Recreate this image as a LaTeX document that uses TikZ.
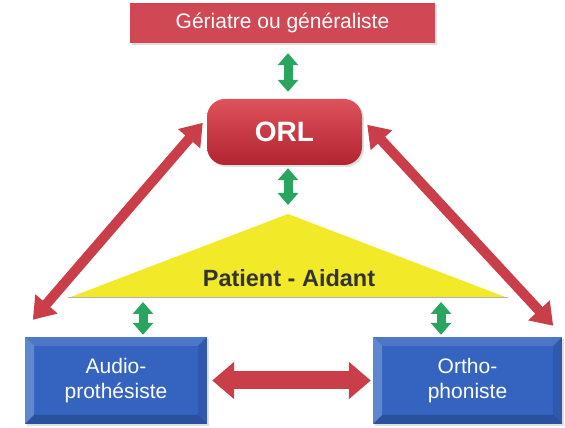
\documentclass[tikz,border=0pt]{standalone}
\usepackage{fontspec}
\setmainfont{Liberation Sans}
\usetikzlibrary{arrows.meta,calc,positioning,shadows}
\definecolor{hdred}{RGB}{208,72,84}
\definecolor{orltop}{RGB}{222,82,92}
\definecolor{orlbot}{RGB}{178,36,48}
\definecolor{boxblue}{RGB}{52,100,192}
\definecolor{ptyellow}{RGB}{242,234,40}
\definecolor{lkgreen}{RGB}{40,165,95}
\definecolor{lkred}{RGB}{202,62,74}

\begin{document}
\begin{tikzpicture}[x=1pt,y=1pt,
  every node/.style={inner sep=0pt},
  shadowed/.style={drop shadow={shadow xshift=2pt,shadow yshift=-2pt,opacity=.25}},
  hdbox/.style={fill=hdred,shadowed,minimum width=305pt,minimum height=40pt,
    text=white,font=\fontsize{21}{25}\selectfont},
  orlbox/.style={top color=orltop,bottom color=orlbot,shadowed,rounded corners=18pt,
    minimum width=155pt,minimum height=66pt,text=white,font=\fontsize{28}{32}\selectfont\bfseries},
  bevelbox/.style={fill=boxblue,shadowed,minimum height=87pt,align=center,
    text=white,font=\fontsize{21}{25}\selectfont,
    path picture={
      \coordinate (bsw) at (path picture bounding box.south west);
      \coordinate (bne) at (path picture bounding box.north east);
      \fill[white,opacity=.22] (bsw) -- (bsw|-bne) -- ($(bsw|-bne)+(9,-9)$) -- ($(bsw)+(9,9)$) -- cycle;
      \fill[white,opacity=.12] (bsw|-bne) -- (bne) -- ($(bne)+(-9,-9)$) -- ($(bsw|-bne)+(9,-9)$) -- cycle;
      \fill[black,opacity=.10] (bne) -- (bne|-bsw) -- ($(bne|-bsw)+(-9,9)$) -- ($(bne)+(-9,-9)$) -- cycle;
      \fill[black,opacity=.18] (bsw) -- (bne|-bsw) -- ($(bne|-bsw)+(-9,9)$) -- ($(bsw)+(9,9)$) -- cycle;
    }},
  pttext/.style={text=black!80,font=\fontsize{23.5}{28}\selectfont\bfseries},
  lkgreenarrow/.style={draw=lkgreen,line width=9pt,
    {Triangle[width=20pt,length=12pt]}-{Triangle[width=20pt,length=12pt]}},
  lkredarrow/.style={draw=lkred,line width=10pt,
    {Triangle[width=28pt,length=21pt]}-{Triangle[width=28pt,length=21pt]}},
  lkwidearrow/.style={draw=lkred,line width=18pt,
    {Triangle[width=36pt,length=22pt]}-{Triangle[width=36pt,length=22pt]}}]
  \useasboundingbox (0,0) rectangle (565,428);
  % boxes
  \node[hdbox] (geriatre) at (282.5,405) {Gériatre ou généraliste};
  \node[orlbox] (orl) at (284.5,296) {ORL};
  \node[bevelbox,minimum width=182pt] (audio) at (116,47.5) {Audio-\\prothésiste};
  \node[bevelbox,minimum width=189pt] (ortho) at (467.5,47.5) {Ortho-\\phoniste};
  % patient triangle
  \coordinate (apex) at (288,214);
  \coordinate (baseL) at (68,130);
  \coordinate (baseR) at (508,130);
  \fill[ptyellow] (baseL) -- (apex) -- (baseR) -- cycle;
  \draw[black!30,line width=1pt] (baseL) -- (baseR);
  \node[pttext,anchor=base] (patient) at (289,141) {Patient - Aidant};
  \coordinate (pl) at (143,130);
  \coordinate (pr) at (441,130);
  % green links
  \draw[lkgreenarrow,shorten <=10pt,shorten >=7pt] (apex |- geriatre.south) -- (apex |- orl.north);
  \draw[lkgreenarrow,shorten <=3pt,shorten >=9pt] (apex |- orl.south) -- (apex);
  \draw[lkgreenarrow,shorten <=4pt,shorten >=2pt] (pl) -- (pl |- audio.north);
  \draw[lkgreenarrow,shorten <=4pt,shorten >=2pt] (pr) -- (pr |- ortho.north);
  % red links
  \draw[lkwidearrow,shorten <=5pt,shorten >=2pt] (audio.east) -- (ortho.west);
  \draw[lkredarrow] ($(audio.north west)+(8,17)$) -- ($(orl.north west)+(-4,-24)$);
  \draw[lkredarrow] ($(orl.north east)+(5,-26)$) -- ($(ortho.north east)+(-9,11)$);
\end{tikzpicture}
\end{document}
